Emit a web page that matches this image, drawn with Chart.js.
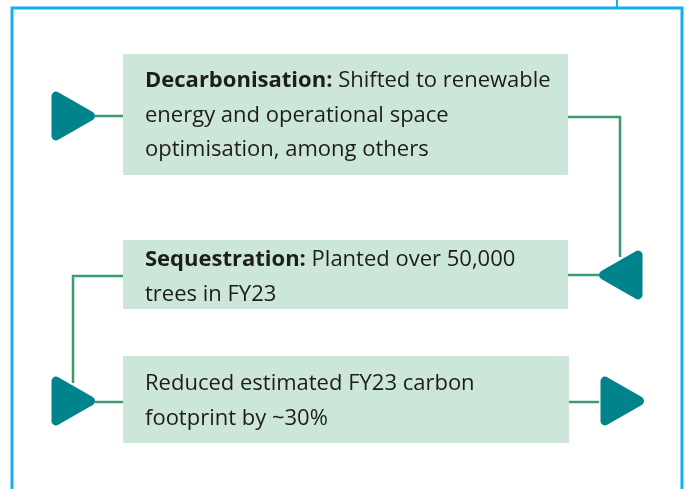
<!DOCTYPE html>
<html>
<head>
<meta charset="utf-8">
<script src="https://cdn.jsdelivr.net/npm/chart.js@4/dist/chart.umd.min.js"></script>
<style>
    html, body { margin: 0; padding: 0; background: #fff; }
    #wrap { width: 687px; height: 489px; }
</style>
</head>
<body>
<div id="wrap"><canvas id="flowChart" width="687" height="489"></canvas></div>
<script>
// step texts
const stepTitles = ['Decarbonisation:', 'Sequestration:', ''];
const stepLines = [
    ['Shifted to renewable', 'energy and operational space', 'optimisation, among others'],
    ['Planted over 50,000', 'trees in FY23'],
    ['Reduced estimated FY23 carbon', 'footprint by ~30%']
];

// diagram grid (x: 0..687, y: 0..489 top-down)
const boxLeft = [123, 123, 123];
const boxRight = [568, 568, 569];
const boxTop = [54, 240, 356];
const boxBottom = [175, 309, 443];
const firstLineY = [81, 260, 384];

const arrowX = [67.5, 626.5, 67.5, 616.5];
const arrowY = [116, 275, 401, 401];
const arrowRotation = [90, -90, 90, 90];

const connectors = [
    [[95, 116], [123, 116]],
    [[568, 117], [620, 117], [620, 257]],
    [[568, 275], [599, 275]],
    [[123, 276], [73, 276], [73, 383]],
    [[95, 402], [123, 402]],
    [[569, 402], [599, 402]]
];

const frameLine = [[12, 495], [12, 8], [682, 8], [682, 495]];
const frameTick = [[617, -5], [617, 8]];

const boxColor = '#cde6da';
const lineColor = '#3a9b6d';
const arrowColor = '#00838a';
const frameColor = '#12b0ee';

const toPoints = list => list.map(p => ({x: p[0], y: p[1]}));

const datasets = [];

datasets.push({
    type: 'line',
    order: 5,
    data: toPoints(frameLine),
    borderColor: frameColor,
    borderWidth: 3,
    pointRadius: 0,
    fill: false
});
datasets.push({
    type: 'line',
    order: 5,
    data: toPoints(frameTick),
    borderColor: frameColor,
    borderWidth: 2,
    pointRadius: 0,
    fill: false
});

boxTop.forEach((top, i) => {
    datasets.push({
        type: 'line',
        order: 4,
        data: toPoints([
            [boxLeft[i], top], [boxRight[i], top],
            [boxRight[i], boxBottom[i]], [boxLeft[i], boxBottom[i]], [boxLeft[i], top]
        ]),
        borderWidth: 0,
        borderColor: boxColor,
        backgroundColor: boxColor,
        pointRadius: 0,
        fill: 'shape'
    });
});

connectors.forEach(path => {
    datasets.push({
        type: 'line',
        order: 3,
        data: toPoints(path),
        borderColor: lineColor,
        borderWidth: 2.5,
        pointRadius: 0,
        fill: false
    });
});

datasets.push({
    type: 'scatter',
    order: 1,
    data: arrowX.map((x, i) => ({x: x, y: arrowY[i]})),
    pointStyle: 'triangle',
    pointRadius: 23,
    pointRotation: arrowRotation,
    backgroundColor: arrowColor,
    borderColor: arrowColor,
    pointBorderWidth: 9
});

const arrowIndex = datasets.length - 1;

// rounded corners on the triangle markers
const roundJoins = {
    id: 'roundJoins',
    beforeDatasetDraw(chart, args) {
        if (args.index === arrowIndex) {
            chart.ctx.save();
            chart.ctx.lineJoin = 'round';
        }
    },
    afterDatasetDraw(chart, args) {
        if (args.index === arrowIndex) {
            chart.ctx.restore();
        }
    }
};

const stepText = {
    id: 'stepText',
    afterDatasetsDraw(chart) {
        const {ctx, scales: {x, y}} = chart;
        ctx.save();
        ctx.fillStyle = '#1d1d1b';
        ctx.textBaseline = 'middle';
        stepLines.forEach((lines, i) => {
            lines.forEach((line, j) => {
                let px = x.getPixelForValue(145);
                const py = y.getPixelForValue(firstLineY[i] + j * 34.5);
                if (j === 0 && stepTitles[i]) {
                    ctx.font = 'bold 22px "Open Sans"';
                    ctx.fillText(stepTitles[i], px, py);
                    px += ctx.measureText(stepTitles[i] + ' ').width;
                }
                ctx.font = '22px "Open Sans"';
                ctx.fillText(line, px, py);
            });
        });
        ctx.restore();
    }
};

new Chart(document.querySelector('#flowChart'), {
    type: 'scatter',
    data: {datasets: datasets},
    options: {
        responsive: false,
        animation: false,
        layout: {padding: 0, autoPadding: false},
        plugins: {
            legend: {display: false},
            tooltip: {enabled: false}
        },
        scales: {
            x: {type: 'linear', min: 0, max: 687, display: false},
            y: {type: 'linear', min: 0, max: 489, reverse: true, display: false}
        }
    },
    plugins: [roundJoins, stepText]
});
</script>
</body>
</html>
